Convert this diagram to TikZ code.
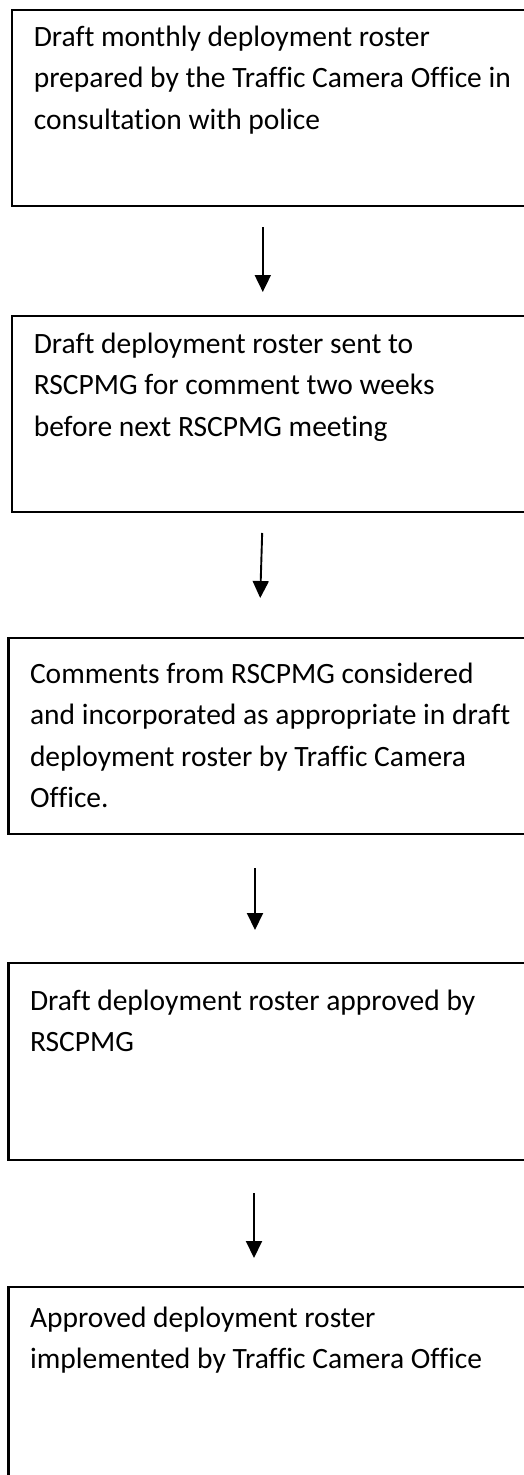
\documentclass[tikz,border=0pt]{standalone}
\usepackage{fontspec}
\setmainfont{Carlito}[Ligatures=NoCommon]
\usetikzlibrary{arrows.meta}
\newcommand{\boxtxt}[3]{\parbox[t][#1][t]{530pt}{\fontsize{29.5pt}{41.5pt}\selectfont\raggedright\leftskip=21.5pt\rule{0pt}{#2}#3}}
\tikzset{
  flowbox/.style={draw, line width=2.2pt, inner sep=0pt, outer sep=0pt, anchor=north west},
  flowarrow/.style={line width=1.9pt, -{Triangle[width=16pt,length=17pt]}}
}
\begin{document}
\begin{tikzpicture}[x=1pt,y=1pt]
\useasboundingbox (0,0) rectangle (523,-1475);
\node[flowbox] (b1) at (12.3,-10) {\boxtxt{196pt}{36pt}{Draft monthly deployment roster\\prepared by the Traffic Camera Office in\\consultation with police}};
\node[flowbox] (b2) at (12.3,-316) {\boxtxt{196pt}{37pt}{Draft deployment roster sent to\\RSCPMG for comment two weeks\\before next RSCPMG meeting}};
\node[flowbox] (b3) at (8.5,-638) {\boxtxt{196pt}{45pt}{Comments from RSCPMG considered\\and incorporated as appropriate in draft\\deployment roster by Traffic Camera\\Office.}};
\node[flowbox] (b4) at (8.5,-963) {\boxtxt{197pt}{47pt}{Draft deployment roster approved by\\RSCPMG}};
\node[flowbox] (b5) at (8.5,-1287) {\boxtxt{230pt}{40pt}{Approved deployment roster\\implemented by Traffic Camera Office}};
\draw[flowarrow, shorten <=21pt, shorten >=24pt] ([xshift=250.5pt]b1.south west) -- ([xshift=250.5pt]b2.north west);
\draw[flowarrow, shorten <=21pt, shorten >=40pt] ([xshift=250.5pt]b2.south west) -- ([xshift=250.5pt]b3.north west);
\draw[flowarrow, shorten <=34pt, shorten >=33pt] ([xshift=246.5pt]b3.south west) -- ([xshift=246.5pt]b4.north west);
\draw[flowarrow, shorten <=33pt, shorten >=29pt] ([xshift=245.5pt]b4.south west) -- ([xshift=245.5pt]b5.north west);
\end{tikzpicture}
\end{document}
